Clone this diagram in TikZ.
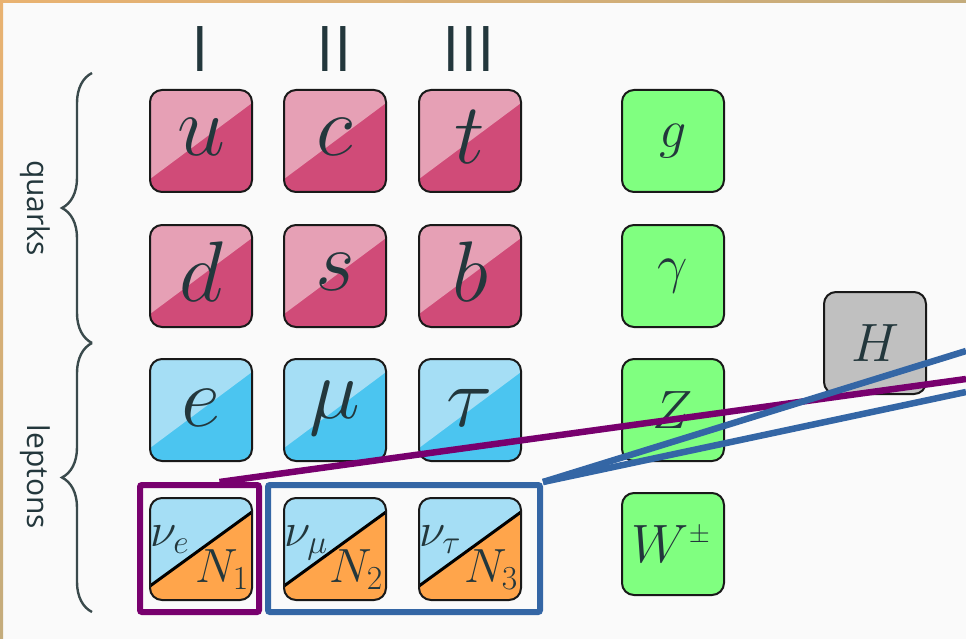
\RequirePackage{fix-cm}
\documentclass[tikz,border=0pt]{standalone}
\usepackage{fontspec}
\newfontfamily\uisans{Open Sans}
\usetikzlibrary{decorations.pathreplacing}
\definecolor{bg}{RGB}{250,250,250}
\definecolor{ink}{RGB}{35,55,60}
\definecolor{qlight}{RGB}{230,160,181}
\definecolor{qdark}{RGB}{208,75,120}
\definecolor{llight}{RGB}{165,222,245}
\definecolor{ldark}{RGB}{75,197,240}
\definecolor{nuor}{RGB}{255,165,75}
\definecolor{gauge}{RGB}{128,255,128}
\definecolor{higgs}{RGB}{192,192,192}
\definecolor{selp}{RGB}{120,0,110}
\definecolor{selb}{RGB}{52,102,165}
\definecolor{brdA}{RGB}{233,178,113}
\definecolor{brdB}{RGB}{196,172,124}
\definecolor{brace}{RGB}{58,74,76}
\tikzset{
  pbox/.style={draw=black!90, line width=2pt, rounded corners=12pt,
    minimum width=102pt, minimum height=102pt, inner sep=0pt},
  split/.style 2 args={pbox, fill=#2, path picture={
    \fill[#1, sharp corners] (path picture bounding box.north west)
      -- (path picture bounding box.north east)
      -- ([yshift=-13pt]path picture bounding box.north east)
      -- ([yshift=13pt]path picture bounding box.south west) -- cycle;}},
  quark/.style={split={qlight}{qdark}},
  lepton/.style={split={llight}{ldark}},
  neutrino/.style={pbox, fill=nuor, path picture={
    \fill[llight, sharp corners] (path picture bounding box.north west)
      -- (path picture bounding box.north east)
      -- ([yshift=-14pt]path picture bounding box.north east)
      -- ([yshift=14pt]path picture bounding box.south west) -- cycle;
    \draw[black, line width=3pt, sharp corners]
      ([yshift=14pt]path picture bounding box.south west)
      -- ([yshift=-14pt]path picture bounding box.north east);}},
  boson/.style={pbox, fill=gauge},
  higgsbox/.style={pbox, fill=higgs},
  biglab/.style={font=\fontsize{86}{86}\selectfont, text=ink, inner sep=0pt},
  midlab/.style={font=\fontsize{54}{54}\selectfont, text=ink, inner sep=0pt},
  nulab/.style={font=\fontsize{48}{48}\selectfont, text=ink, inner sep=0pt},
  genlab/.style={font=\uisans\fontsize{63}{63}\selectfont, text=ink, inner sep=0pt, anchor=base},
  grouplab/.style={font=\uisans\fontsize{30}{30}\selectfont, text=ink, inner sep=0pt, rotate=-90},
  bracestyle/.style={draw=brace, line width=2.4pt, decorate, decoration={brace, amplitude=30pt}},
  selframe/.style={draw=#1, line width=6pt, rounded corners=2pt, inner sep=0pt, minimum height=127pt},
  selline/.style={draw=#1, line width=6.5pt}
}
\begin{document}
\begin{tikzpicture}[x=1pt, y=-1pt]
\useasboundingbox (0,0) rectangle (966,639);
\fill[bg] (0,0) rectangle (966,639);
\shade[left color=brdA, right color=brdB] (0,0) rectangle (966,3);
\shade[top color=brdA, bottom color=brdB] (0,0) rectangle (3,639);

% generation labels
\node[genlab] (g1) at (200,72) {I};
\node[genlab] (g2) at (334,72) {II};
\node[genlab] (g3) at (469,72) {III};

% braces and group labels
\draw[bracestyle] (92,343) -- (92,73);
\draw[bracestyle] (92,612) -- (92,343);
\node[grouplab] (lq) at (35,208) {quarks};
\node[grouplab] (ll) at (35,477) {leptons};

% quarks
\node[quark] (u) at (201,141) {};
\node[quark] (c) at (335,141) {};
\node[quark] (t) at (470,141) {};
\node[quark] (d) at (201,276) {};
\node[quark] (s) at (335,276) {};
\node[quark] (b) at (470,276) {};
% charged leptons
\node[lepton] (e) at (201,410) {};
\node[lepton] (mu) at (335,410) {};
\node[lepton] (tau) at (470,410) {};
% neutrinos
\node[neutrino] (n1) at (201,549) {};
\node[neutrino] (n2) at (335,549) {};
\node[neutrino] (n3) at (470,549) {};
% bosons
\node[boson] (gl) at (673,141) {};
\node[boson] (ga) at (673,276) {};
\node[boson] (z) at (673,410) {};
\node[boson] (w) at (673,544) {};
\node[higgsbox] (h) at (875,343) {};

% letters
\node[biglab] (lu) at ([yshift=4pt]u.center) {$u$};
\node[biglab] (lc) at ([yshift=4pt]c.center) {$c$};
\node[biglab] (lt) at ([yshift=4pt]t.center) {$t$};
\node[biglab] (ld) at ([yshift=4pt]d.center) {$d$};
\node[biglab] (ls) at ([yshift=4pt]s.center) {$s$};
\node[biglab] (lb) at ([yshift=4pt]b.center) {$b$};
\node[biglab] (le) at ([yshift=2pt]e.center) {$e$};
\node[biglab] (lmu) at ([yshift=2pt]mu.center) {$\mu$};
\node[biglab] (ltau) at ([yshift=2pt]tau.center) {$\tau$};
\node[midlab] (lgl) at (gl.center) {$g$};
\node[midlab] (lga) at (ga.center) {$\gamma$};
\node[midlab] (lz) at (z.center) {$Z$};
\node[midlab] (lw) at ([xshift=-2pt]w.center) {$W^{\scriptscriptstyle\pm}$};
\node[midlab] (lh) at (h.center) {$H$};
\node[nulab, anchor=base west] (nu1) at ([xshift=1pt,yshift=-49pt]n1.north west) {$\nu_e$};
\node[nulab, anchor=base west] (nu2) at ([xshift=1pt,yshift=-49pt]n2.north west) {$\nu_\mu$};
\node[nulab, anchor=base west] (nu3) at ([xshift=1pt,yshift=-49pt]n3.north west) {$\nu_\tau$};
\node[nulab, anchor=base east] (N1) at ([xshift=-4pt,yshift=-85pt]n1.north east) {$N_1$};
\node[nulab, anchor=base east] (N2) at ([xshift=-4pt,yshift=-85pt]n2.north east) {$N_2$};
\node[nulab, anchor=base east] (N3) at ([xshift=-4pt,yshift=-85pt]n3.north east) {$N_3$};

% selection frames
\node[selframe=selp, minimum width=119pt] (pf) at (199.5,548.5) {};
\node[selframe=selb, minimum width=272pt] (bf) at (404,548.5) {};

% projection lines
\coordinate (pend) at (966,379);
\coordinate (bendA) at (966,351);
\coordinate (bendB) at (966,392);
\draw[selline=selp] ([xshift=20pt]pf.north) -- (pend);
\draw[selline=selb] (bf.north east) -- (bendA);
\draw[selline=selb] (bf.north east) -- (bendB);
\end{tikzpicture}
\end{document}
